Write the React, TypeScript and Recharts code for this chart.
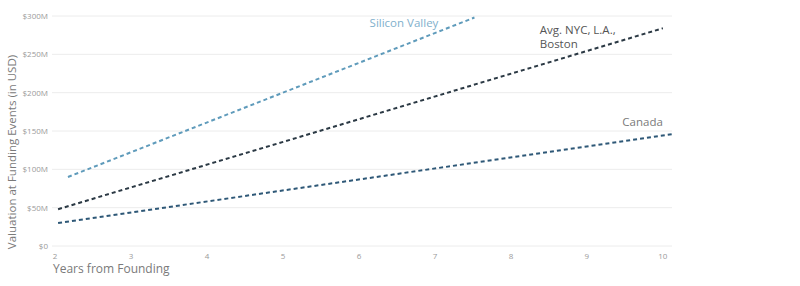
import React from 'react';
import {
  LineChart,
  Line,
  XAxis,
  YAxis,
  CartesianGrid,
  ReferenceDot,
} from 'recharts';

// values (years from founding, $M)
const siliconValley = [
  { year: 2.17, value: 90 },
  { year: 7.52, value: 298 },
];
const avgNycLaBoston = [
  { year: 2.04, value: 48 },
  { year: 10.0, value: 284 },
];
const canada = [
  { year: 2.04, value: 30 },
  { year: 10.13, value: 146 },
];

const xTicks = [2, 3, 4, 5, 6, 7, 8, 9, 10];
const yTicks = [0, 50, 100, 150, 200, 250, 300];

const FONT = '"Open Sans", "Noto Sans", sans-serif';

const fmtMoney = (v: number) => (v === 0 ? '$0' : `$${v}M`);

interface NoteProps {
  viewBox?: { x: number; y: number };
  lines: string[];
  color: string;
  anchor?: 'start' | 'end';
}

function Note({ viewBox, lines, color, anchor = 'start' }: NoteProps) {
  if (!viewBox) return null;
  return (
    <text
      x={viewBox.x}
      y={viewBox.y}
      fill={color}
      fontSize={11.5}
      fontFamily={FONT}
      textAnchor={anchor}
    >
      {lines.map((l, i) => (
        <tspan key={i} x={viewBox.x} dy={i === 0 ? 0 : 14}>
          {l}
        </tspan>
      ))}
    </text>
  );
}

function YTitle({ viewBox }: { viewBox?: { x: number; y: number; width: number; height: number } }) {
  if (!viewBox) return null;
  const x = viewBox.x + 16;
  const y = viewBox.y + viewBox.height / 2 + 21;
  return (
    <text
      x={x}
      y={y}
      transform={`rotate(-90, ${x}, ${y})`}
      textAnchor="middle"
      fontSize={11.5}
      fill="#7a7a7a"
      fontFamily={FONT}
    >
      Valuation at Funding Events (in USD)
    </text>
  );
}

export default function App() {
  return (
    <div style={{ position: 'absolute', left: 0, top: 0, background: '#fff' }}>
      <LineChart
        width={800}
        height={286}
        margin={{ top: 16, right: 128, bottom: 0, left: 0 }}
      >
        <CartesianGrid stroke="#ececec" vertical={false} />
        <XAxis
          type="number"
          dataKey="year"
          domain={[1.96, 10.12]}
          ticks={xTicks}
          allowDataOverflow
          axisLine={false}
          tickLine={false}
          tickSize={0}
          tickMargin={7}
          height={40}
          tick={{ fontSize: 8, fill: '#9a9a9a', fontFamily: FONT }}
          label={{
            value: 'Years from Founding',
            position: 'insideBottomLeft',
            offset: 13,
            dx: -12,
            fontSize: 12,
            fill: '#7a7a7a',
            fontFamily: FONT,
          }}
        />
        <YAxis
          type="number"
          dataKey="value"
          domain={[0, 300]}
          ticks={yTicks}
          width={52}
          axisLine={false}
          tickLine={false}
          tickSize={0}
          tickMargin={4}
          tickFormatter={fmtMoney}
          tick={{ fontSize: 8, fill: '#9a9a9a', fontFamily: FONT }}
          label={<YTitle />}
        />
        <Line
          data={siliconValley}
          dataKey="value"
          stroke="#5f9bbb"
          strokeWidth={2}
          strokeDasharray="4 3"
          dot={false}
          isAnimationActive={false}
        />
        <Line
          data={avgNycLaBoston}
          dataKey="value"
          stroke="#2b3944"
          strokeWidth={2}
          strokeDasharray="4 3"
          dot={false}
          isAnimationActive={false}
        />
        <Line
          data={canada}
          dataKey="value"
          stroke="#2e5877"
          strokeWidth={2}
          strokeDasharray="4 3"
          dot={false}
          isAnimationActive={false}
        />
        <ReferenceDot
          x={6.14}
          y={286}
          r={0}
          label={<Note lines={['Silicon Valley']} color="#7fb0cc" />}
        />
        <ReferenceDot
          x={8.38}
          y={276}
          r={0}
          label={<Note lines={['Avg. NYC, L.A.,', 'Boston']} color="#555555" />}
        />
        <ReferenceDot
          x={10.0}
          y={157}
          r={0}
          label={<Note lines={['Canada']} color="#7a7a7a" anchor="end" />}
        />
      </LineChart>
    </div>
  );
}
